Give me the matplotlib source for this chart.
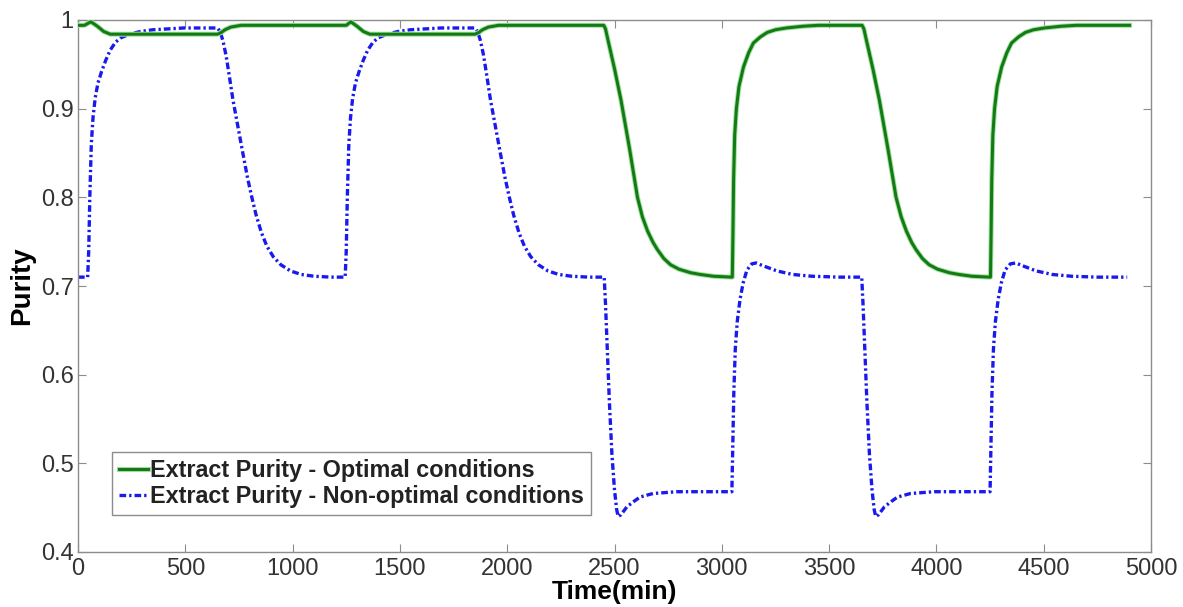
import matplotlib
matplotlib.use("Agg")
import matplotlib.pyplot as plt
import matplotlib.patheffects as pe

# ---- data ----
opt_time = [0, 30, 60, 90, 120, 150, 250, 400, 600, 650, 668, 685, 712, 760, 900, 1100,
            1250, 1271, 1300, 1330, 1360, 1450, 1600, 1800, 1850, 1868, 1885, 1912, 1960,
            2100, 2300, 2450, 2458, 2470, 2500, 2530, 2570, 2607, 2630, 2654, 2680, 2700,
            2730, 2761, 2800, 2854, 2900, 2961, 3045,
            3049, 3052, 3055, 3060, 3068, 3080, 3101, 3125, 3147, 3180, 3212, 3250, 3300,
            3380, 3450, 3550, 3654, 3662, 3674, 3704, 3734, 3774, 3812, 3836, 3860, 3885,
            3905, 3935, 3966, 4005, 4060, 4105, 4165, 4248,
            4252, 4255, 4258, 4263, 4271, 4283, 4304, 4328, 4350, 4383, 4415, 4453, 4503,
            4583, 4653, 4750, 4900]
opt_purity = [0.994, 0.994, 0.998, 0.993, 0.987, 0.984, 0.984, 0.984, 0.984, 0.984, 0.986,
              0.989, 0.992, 0.994, 0.994, 0.994, 0.994, 0.998, 0.993, 0.987, 0.984, 0.984,
              0.984, 0.984, 0.984, 0.986, 0.989, 0.992, 0.994, 0.994, 0.994, 0.994, 0.990,
              0.977, 0.945, 0.910, 0.855, 0.800, 0.778, 0.762, 0.749, 0.741, 0.731, 0.724,
              0.719, 0.715, 0.713, 0.711, 0.710,
              0.710, 0.760, 0.820, 0.870, 0.900, 0.925, 0.947, 0.963, 0.974, 0.981, 0.986,
              0.989, 0.991, 0.993, 0.994, 0.994, 0.994, 0.990, 0.977, 0.945, 0.910, 0.855,
              0.800, 0.778, 0.762, 0.749, 0.741, 0.731, 0.724, 0.719, 0.715, 0.713, 0.711,
              0.710,
              0.710, 0.760, 0.820, 0.870, 0.900, 0.925, 0.947, 0.963, 0.974, 0.981, 0.986,
              0.989, 0.991, 0.993, 0.994, 0.994, 0.994]

nonopt_time = [0, 45, 50, 55, 62, 70, 80, 93, 110, 130, 150, 175, 200, 240, 290, 350, 420,
               493, 650, 662, 675, 690, 705, 722, 745, 768, 790, 810, 830, 855, 880, 910,
               945, 990, 1040, 1100, 1180,
               1245, 1250, 1255, 1262, 1270, 1280, 1293, 1310, 1330, 1350, 1375, 1400, 1440,
               1490, 1550, 1620, 1693, 1850, 1862, 1875, 1890, 1905, 1922, 1945, 1968, 1990,
               2010, 2030, 2055, 2080, 2110, 2145, 2190, 2240, 2300, 2380,
               2452, 2458, 2466, 2476, 2488, 2500, 2510, 2517, 2530, 2558, 2590, 2619, 2680,
               2791, 2950,
               3047, 3051, 3056, 3063, 3072, 3085, 3099, 3117, 3140, 3160, 3190, 3257, 3330,
               3420, 3550,
               3652, 3658, 3666, 3676, 3688, 3700, 3710, 3717, 3730, 3758, 3790, 3819, 3880,
               3991, 4150,
               4250, 4254, 4259, 4266, 4275, 4288, 4302, 4320, 4345, 4370, 4400, 4465, 4540,
               4630, 4750, 4889]
nonopt_purity = [0.710, 0.710, 0.740, 0.800, 0.860, 0.890, 0.912, 0.929, 0.942, 0.955,
                 0.966, 0.975, 0.980, 0.984, 0.987, 0.989, 0.990, 0.991, 0.991, 0.987,
                 0.977, 0.960, 0.937, 0.910, 0.880, 0.850, 0.822, 0.800, 0.780, 0.760,
                 0.745, 0.733, 0.724, 0.717, 0.713, 0.711, 0.710,
                 0.710, 0.740, 0.800, 0.860, 0.890, 0.912, 0.929, 0.942, 0.955, 0.966,
                 0.975, 0.980, 0.984, 0.987, 0.989, 0.990, 0.991, 0.991, 0.987, 0.977,
                 0.960, 0.937, 0.910, 0.880, 0.850, 0.822, 0.800, 0.780, 0.760, 0.745,
                 0.733, 0.724, 0.717, 0.713, 0.711, 0.710,
                 0.710, 0.680, 0.630, 0.570, 0.510, 0.470, 0.448, 0.440, 0.442, 0.451,
                 0.457, 0.462, 0.466, 0.468, 0.468,
                 0.468, 0.520, 0.580, 0.630, 0.660, 0.685, 0.703, 0.718, 0.725, 0.726,
                 0.723, 0.717, 0.713, 0.711, 0.710,
                 0.710, 0.680, 0.630, 0.570, 0.510, 0.470, 0.448, 0.440, 0.442, 0.451,
                 0.457, 0.462, 0.466, 0.468, 0.468,
                 0.468, 0.520, 0.580, 0.630, 0.660, 0.685, 0.703, 0.718, 0.725, 0.726,
                 0.723, 0.717, 0.713, 0.711, 0.710, 0.710]

x_ticks = [0, 500, 1000, 1500, 2000, 2500, 3000, 3500, 4000, 4500, 5000]
y_ticks = [0.4, 0.5, 0.6, 0.7, 0.8, 0.9, 1.0]
y_tick_labels = ["0.4", "0.5", "0.6", "0.7", "0.8", "0.9", "1"]

label_opt = "Extract Purity - Optimal conditions"
label_nonopt = "Extract Purity - Non-optimal conditions"

plt.rcParams['font.family'] = ['Liberation Sans', 'DejaVu Sans']

W, H = 1183, 607
fig = plt.figure(figsize=(W / 100, H / 100), dpi=100)
ax = fig.add_axes([78 / W, 1 - 552 / H, 1073 / W, 532 / H])

green = '#157a15'
blue = '#1a1aee'

ax.plot(opt_time, opt_purity, color=green, lw=2.2, label=label_opt,
        path_effects=[pe.Stroke(linewidth=3.6, foreground='#9fe39f'), pe.Normal()],
        zorder=3)
ax.plot(nonopt_time, nonopt_purity, color=blue, lw=2.4,
        linestyle=(0, (2.0, 0.9, 0.7, 0.9)), label=label_nonopt, zorder=2)

ax.set_xlim(0, 5000)
ax.set_ylim(0.4, 1.0)
ax.set_xticks(x_ticks)
ax.set_xticklabels([str(t) for t in x_ticks])
ax.set_yticks(y_ticks)
ax.set_yticklabels(y_tick_labels)

for s in ax.spines.values():
    s.set_color('#8c8c8c')
    s.set_linewidth(1.0)
ax.tick_params(direction='in', length=6, width=0.8, color='#8c8c8c',
               labelsize=17, labelcolor='#333333', top=True, right=True)
ax.tick_params(axis='x', pad=4)
ax.tick_params(axis='y', pad=3)

ax.set_xlabel("Time(min)", fontsize=19, fontweight='bold', labelpad=0)
ax.set_ylabel("Purity", fontsize=20, fontweight='bold', labelpad=4)

leg = ax.legend(loc='lower left', bbox_to_anchor=((112 - 78) / 1073, (552 - 515) / 532),
                borderaxespad=0, fancybox=False, edgecolor='#8c8c8c',
                prop={'size': 16.8, 'weight': 'bold'}, handlelength=1.25,
                handletextpad=0.1, borderpad=0.3, labelspacing=0.12, framealpha=1)
leg.get_frame().set_linewidth(1.0)
for t in leg.get_texts():
    t.set_color('#222222')

fig.savefig("out.png", dpi=100)
